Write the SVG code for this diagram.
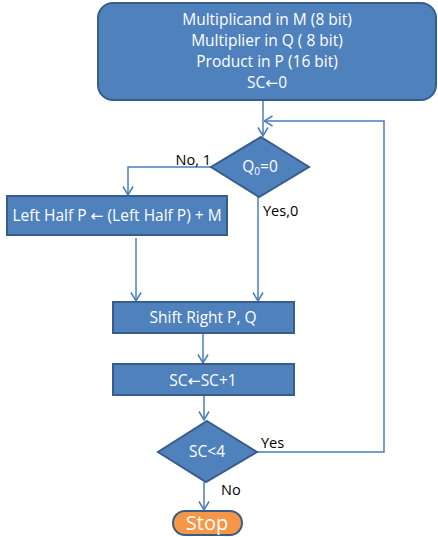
<svg xmlns="http://www.w3.org/2000/svg" width="438" height="537" viewBox="0 0 438 537">
<defs>
<marker id="arr" viewBox="0 0 10 12" refX="9.5" refY="6" markerWidth="10" markerHeight="12" markerUnits="userSpaceOnUse" orient="auto">
<path d="M1,1 L9.5,6 L1,11" fill="none" stroke="#4A7EBB" stroke-width="1.5"/>
</marker>
<style>
.box{fill:#4F81BD;stroke:#385D8A;stroke-width:2}
.wt{fill:#FFFFFF;font-family:"Open Sans","Liberation Sans",sans-serif;font-size:15.5px;text-anchor:middle}
.bt{fill:#000000;font-family:"Open Sans","Liberation Sans",sans-serif;font-size:14.5px}
.ar{font-family:"DejaVu Sans",sans-serif}
.ln{fill:none;stroke:#4A7EBB;stroke-width:1.5}
</style>
</defs>
<rect width="438" height="537" fill="#FFFFFF"/>
<g id="connectors">
<path class="ln" d="M263,100 L263,136" marker-end="url(#arr)"/>
<path class="ln" d="M211,167 L128,167 L128,195" marker-end="url(#arr)"/>
<path class="ln" d="M258,197 L258,301" marker-end="url(#arr)"/>
<path class="ln" d="M136,238 L136,301" marker-end="url(#arr)"/>
<path class="ln" d="M203,334 L203,363" marker-end="url(#arr)"/>
<path class="ln" d="M204,396 L204,420" marker-end="url(#arr)"/>
<path class="ln" d="M257,452 L384,452 L384,121 L264,121" marker-end="url(#arr)"/>
<path class="ln" d="M204,482 L204,510" marker-end="url(#arr)"/>
<text class="bt" x="211" y="165" text-anchor="end">No, 1</text>
<text class="bt" x="263" y="216">Yes,0</text>
<text class="bt" x="261" y="448">Yes</text>
<text class="bt" x="221" y="495">No</text>
</g>
<g id="start">
<rect class="box" x="98" y="3" width="338" height="97" rx="15" ry="15"/>
<text class="wt" x="267" y="25">Multiplicand in M (8 bit)</text>
<text class="wt" x="267" y="46">Multiplier in Q ( 8 bit)</text>
<text class="wt" x="267" y="67">Product in P (16 bit)</text>
<text class="wt" x="267" y="88">SC<tspan class="ar">←</tspan>0</text>
</g>
<g id="q0">
<polygon class="box" points="261,137 309,167 259,197 211,167"/>
<text class="wt" x="260" y="172">Q<tspan style="font-size:10px" dy="3">0</tspan><tspan dy="-3">=0</tspan></text>
</g>
<g id="add">
<rect class="box" x="7" y="196" width="220" height="39"/>
<text class="wt" x="117" y="221">Left Half P <tspan class="ar">←</tspan> (Left Half P) + M</text>
</g>
<g id="shift">
<rect class="box" x="113" y="302" width="181" height="31"/>
<text class="wt" x="203" y="323">Shift Right P, Q</text>
</g>
<g id="inc">
<rect class="box" x="113" y="364" width="181" height="31"/>
<text class="wt" x="203" y="386">SC<tspan class="ar">←</tspan>SC+1</text>
</g>
<g id="sc4">
<polygon class="box" points="207,421 257,452 206,482 158,452"/>
<text class="wt" x="207" y="457">SC&lt;4</text>
</g>
<g id="stop">
<rect x="173" y="511" width="69" height="24" rx="12" ry="12" fill="#F79646" stroke="#385D8A" stroke-width="2"/>
<text class="wt" x="207" y="530" style="font-size:20px">Stop</text>
</g>
</svg>
